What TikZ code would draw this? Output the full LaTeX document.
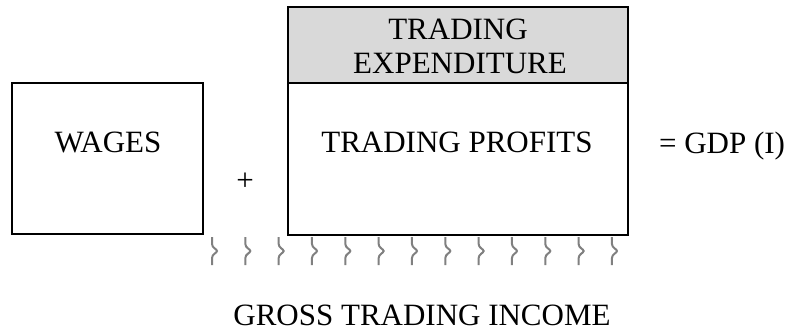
\documentclass[tikz,border=0pt]{standalone}
\usepackage{fontspec}
\setmainfont{Liberation Serif}
\definecolor{hdrgray}{HTML}{D9D9D9}
\definecolor{bracegray}{HTML}{808080}
\begin{document}
\begin{tikzpicture}[x=1pt,y=-1pt,
  boxline/.style={draw=black,line width=2pt},
  lbl/.style={font=\fontsize{31}{35}\selectfont,inner sep=0pt,anchor=base},
  gbrace/.style={draw=bracegray,line width=2pt}]
\useasboundingbox (0,0) rectangle (786,333);
% boxes
\node[boxline,minimum width=191pt,minimum height=151pt,inner sep=0pt] (wagesbox) at (107.5,158.5) {};
\fill[hdrgray] (288,7) rectangle (628,83);
\node[boxline,minimum width=340pt,minimum height=228pt,inner sep=0pt] (bigbox) at (458,121) {};
\draw[line width=2pt] (bigbox.west |- 0,83) coordinate (divl) -- (bigbox.east |- 0,83) coordinate (divr);
% texts
\node[lbl] (wages) at (108,152) {WAGES};
\node[lbl] (plus) at (245,190) {+};
\node[lbl] (tp) at (457,152) {TRADING PROFITS};
\node[lbl] (te1) at (458,39) {TRADING};
\node[lbl] (te2) at (460,73) {EXPENDITURE};
\node[lbl] (gdp) at (722,153) {= GDP (I)};
\node[lbl] (gti) at (422,325) {GROSS TRADING INCOME};
% braces
\foreach \i in {0,...,12}{
  \pgfmathsetmacro{\bx}{212+33.33*\i}
  \draw[gbrace] (\bx,237) -- (\bx,244) .. controls (\bx,248) and (\bx+5,249) .. (\bx+5,251)
     .. controls (\bx+5,253) and (\bx,254) .. (\bx,258) -- (\bx,265);
}
\end{tikzpicture}
\end{document}
